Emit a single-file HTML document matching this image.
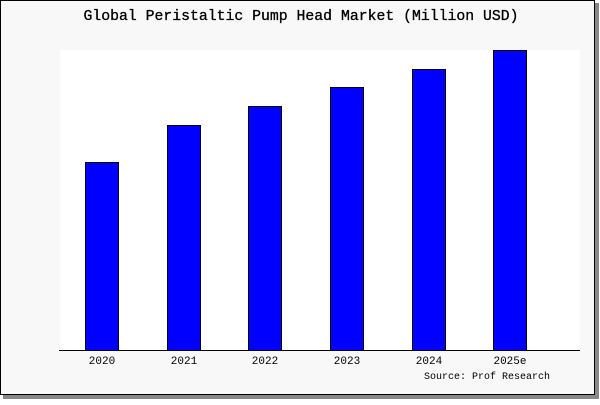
<!DOCTYPE html>
<html><head><style>
body{margin:0;width:600px;height:400px;background:#fff;overflow:hidden}
</style></head><body>
<svg width="600" height="400" xmlns="http://www.w3.org/2000/svg" font-family="Liberation Mono, DejaVu Sans Mono, monospace">
<rect x="3" y="3" width="596" height="396" fill="#888"/>
<rect x="0.5" y="0.5" width="594" height="394" fill="#f8f8f8" stroke="#000"/>
<text x="301" y="20" font-size="14.8" text-anchor="middle" fill="#000" stroke="#000" stroke-width="0.3">Global Peristaltic Pump Head Market (Million USD)</text>
<rect x="60" y="50" width="520" height="300" fill="#fff"/>
<g fill="#0000ff" stroke="#000" stroke-width="1">
<rect x="85.5" y="162.5" width="33" height="188"/>
<rect x="167.5" y="125.5" width="33" height="225"/>
<rect x="248.5" y="106.5" width="33" height="244"/>
<rect x="330.5" y="87.5" width="33" height="263"/>
<rect x="412.5" y="69.5" width="33" height="281"/>
<rect x="493.5" y="50.5" width="33" height="300"/>
</g>
<line x1="59" y1="350.5" x2="580" y2="350.5" stroke="#000"/>
<g font-size="11" text-anchor="middle" fill="#000">
<text x="102" y="364">2020</text>
<text x="184" y="364">2021</text>
<text x="265" y="364">2022</text>
<text x="347" y="364">2023</text>
<text x="429" y="364">2024</text>
<text x="510" y="364">2025e</text>
<text x="550" y="379" text-anchor="end" font-size="10">Source: Prof Research</text>
</g>
</svg>
</body></html>
